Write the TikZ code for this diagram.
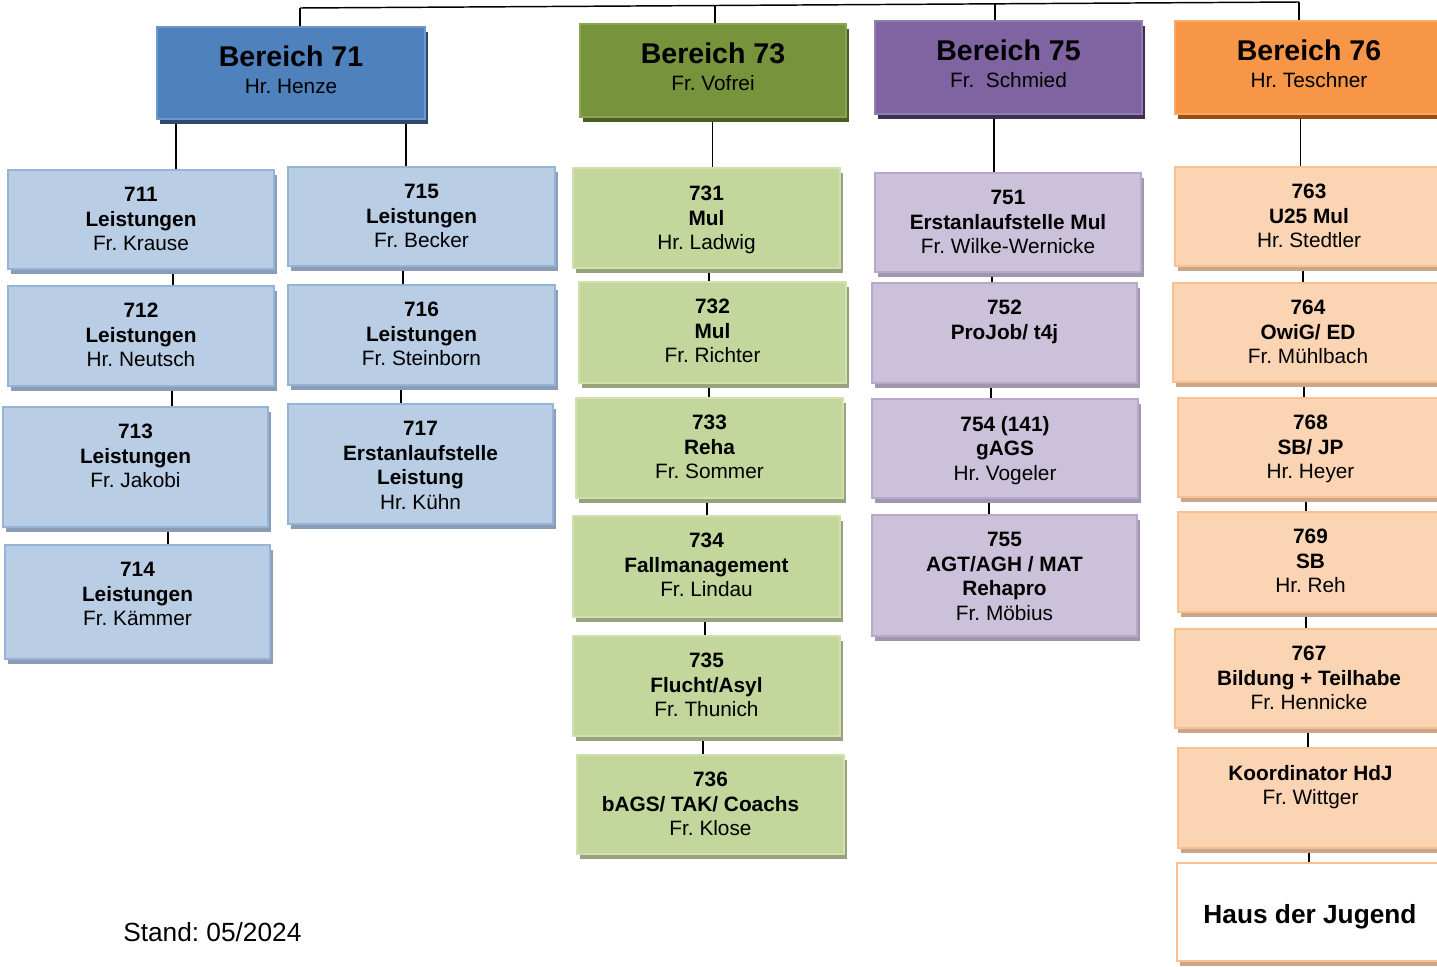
\documentclass[tikz,border=0pt]{standalone}
\usepackage{fontspec}
\setmainfont{Liberation Sans}
\frenchspacing
\usetikzlibrary{calc,shadows,backgrounds}
\definecolor{cHB}{HTML}{4F81BD}\definecolor{cHBd}{HTML}{6E96C8}\definecolor{cHBs}{HTML}{2C4A6E}
\definecolor{cHG}{HTML}{77933C}\definecolor{cHGd}{HTML}{8AA452}\definecolor{cHGs}{HTML}{4A5D24}
\definecolor{cHP}{HTML}{8064A2}\definecolor{cHPd}{HTML}{937CB2}\definecolor{cHPs}{HTML}{3F3151}
\definecolor{cHO}{HTML}{F79646}\definecolor{cHOd}{HTML}{F9A868}\definecolor{cHOs}{HTML}{9A4D10}
\definecolor{cLB}{HTML}{B9CDE5}\definecolor{cLBd}{HTML}{95B3D7}\definecolor{cLBs}{HTML}{8B9DB6}
\definecolor{cLG}{HTML}{C3D69B}\definecolor{cLGd}{HTML}{D0E0AE}\definecolor{cLGs}{HTML}{98A27D}
\definecolor{cLP}{HTML}{CCC1DA}\definecolor{cLPd}{HTML}{B8A9CC}\definecolor{cLPs}{HTML}{A097AC}
\definecolor{cLO}{HTML}{FBD4B4}\definecolor{cLOd}{HTML}{FAC090}\definecolor{cLOs}{HTML}{C8A68A}
\newcommand\obox[6]{\node[#2, anchor=north west, minimum width={(#5-#3)*0.75pt}, minimum height={(#6-#4)*0.75pt}] (#1) at (#3,#4) {};}
\newcommand\otext[3]{\node[txt] (t#1) at ($(#1.north)+(0,#2-15)$) {#3};}
\newcommand\ohead[3]{\node[ttl] (t#1) at ($(#1.north)+(0,39.5)$) {#2};\node[subt] (s#1) at ($(#1.north)+(0,66)$) {#3};}
\newcommand\olink[3]{\draw[conn] (#1,0 |- #2.center) -- (#1,0 |- #3.center);}
\begin{document}
\begin{tikzpicture}[x=0.75pt,y=-0.75pt,
  conn/.style={draw=black, line width=1.1pt},
  basebox/.style={rectangle, inner sep=0pt, outer sep=0pt, line width=1pt},
  sh/.style={drop shadow={shadow xshift=2.5pt, shadow yshift=-4pt, fill=#1, opacity=1}},
  hblue/.style={basebox, fill=cHB, draw=cHBd, sh=cHBs},
  hgreen/.style={basebox, fill=cHG, draw=cHGd, sh=cHGs},
  hpurple/.style={basebox, fill=cHP, draw=cHPd, sh=cHPs},
  horange/.style={basebox, fill=cHO, draw=cHOd, sh=cHOs},
  lblue/.style={basebox, fill=cLB, draw=cLBd, sh=cLBs},
  lgreen/.style={basebox, fill=cLG, draw=cLGd, sh=cLGs},
  lpurple/.style={basebox, fill=cLP, draw=cLPd, sh=cLPs},
  lorange/.style={basebox, fill=cLO, draw=cLOd, sh=cLOs},
  lwhite/.style={basebox, fill=white, draw=cLOd, line width=1.5pt, sh=cLOs},
  txt/.style={inner sep=0pt, align=center, anchor=north, font=\fontsize{15.6}{18.4}\selectfont},
  ttl/.style={inner sep=0pt, anchor=base, font=\fontsize{21.4}{24}\selectfont\bfseries},
  subt/.style={inner sep=0pt, anchor=base, font=\fontsize{15.6}{18.4}\selectfont},
]
\useasboundingbox (0,0) rectangle (1437,967);
% headers
\obox{b71}{hblue}{157}{27}{425}{119}
\obox{b73}{hgreen}{580}{24}{846}{117}
\obox{b75}{hpurple}{875}{21}{1142}{114}
\obox{b76}{horange}{1175}{21}{1443}{114}
\ohead{b71}{Bereich 71}{Hr. Henze}
\ohead{b73}{Bereich 73}{Fr. Vofrei}
\ohead{b75}{Bereich 75}{Fr.\ \ Schmied}
\ohead{b76}{Bereich 76}{Hr. Teschner}
% column 71 left
\obox{b711}{lblue}{8}{170}{274}{269}
\obox{b712}{lblue}{8}{286}{274}{386}
\obox{b713}{lblue}{3}{407}{268}{527}
\obox{b714}{lblue}{5}{545}{270}{659}
\otext{b711}{32}{\textbf{711}\\\textbf{Leistungen}\\Fr. Krause}
\otext{b712}{32}{\textbf{712}\\\textbf{Leistungen}\\Hr. Neutsch}
\otext{b713}{32}{\textbf{713}\\\textbf{Leistungen}\\Fr. Jakobi}
\otext{b714}{32}{\textbf{714}\\\textbf{Leistungen}\\Fr. Kämmer}
% column 71 right
\obox{b715}{lblue}{288}{167}{555}{266}
\obox{b716}{lblue}{288}{285}{555}{385}
\obox{b717}{lblue}{288}{404}{553}{524}
\otext{b715}{32}{\textbf{715}\\\textbf{Leistungen}\\Fr. Becker}
\otext{b716}{32}{\textbf{716}\\\textbf{Leistungen}\\Fr. Steinborn}
\otext{b717}{32}{\textbf{717}\\\textbf{Erstanlaufstelle}\\\textbf{Leistung}\\Hr. Kühn}
% column 73
\obox{b731}{lgreen}{573}{168}{840}{268}
\obox{b732}{lgreen}{579}{282}{846}{383}
\obox{b733}{lgreen}{576}{398}{843}{498}
\obox{b734}{lgreen}{573}{516}{840}{617}
\obox{b735}{lgreen}{573}{636}{840}{736}
\obox{b736}{lgreen}{577}{755}{844}{854}
\otext{b731}{33}{\textbf{731}\\\textbf{Mul}\\Hr. Ladwig}
\otext{b732}{32}{\textbf{732}\\\textbf{Mul}\\Fr. Richter}
\otext{b733}{32}{\textbf{733}\\\textbf{Reha}\\Fr. Sommer}
\otext{b734}{32}{\textbf{734}\\\textbf{Fallmanagement}\\Fr. Lindau}
\otext{b735}{32}{\textbf{735}\\\textbf{Flucht/Asyl}\\Fr. Thunich}
\otext{b736}{32}{\textbf{736}\\\textbf{bAGS/ TAK/ Coachs}\rule{15pt}{0pt}\\Fr. Klose}
% column 75
\obox{b751}{lpurple}{875}{173}{1141}{272}
\obox{b752}{lpurple}{872}{283}{1137}{383}
\obox{b754}{lpurple}{872}{399}{1138}{498}
\obox{b755}{lpurple}{872}{515}{1137}{636}
\otext{b751}{32}{\textbf{751}\\\textbf{Erstanlaufstelle Mul}\\Fr. Wilke-Wernicke}
\otext{b752}{32}{\textbf{752}\\\textbf{ProJob/ t4j}}
\otext{b754}{32}{\textbf{754 (141)}\\\textbf{gAGS}\\Hr. Vogeler}
\otext{b755}{32}{\textbf{755}\\\textbf{AGT/AGH / MAT}\\\textbf{Rehapro}\\Fr. Möbius}
% column 76
\obox{b763}{lorange}{1175}{167}{1443}{266}
\obox{b764}{lorange}{1173}{283}{1443}{382}
\obox{b768}{lorange}{1178}{398}{1443}{497}
\obox{b769}{lorange}{1178}{512}{1443}{612}
\obox{b767}{lorange}{1175}{629}{1443}{728}
\obox{bkoord}{lorange}{1178}{748}{1443}{848}
\obox{bhdj}{lwhite}{1177}{863}{1443}{961}
\otext{b763}{32}{\textbf{763}\\\textbf{U25 Mul}\\Hr. Stedtler}
\otext{b764}{32}{\textbf{764}\\\textbf{OwiG/ ED}\\Fr. Mühlbach}
\otext{b768}{32}{\textbf{768}\\\textbf{SB/ JP}\\Hr. Heyer}
\otext{b769}{32}{\textbf{769}\\\textbf{SB}\\Hr. Reh}
\otext{b767}{32}{\textbf{767}\\\textbf{Bildung + Teilhabe}\\Fr. Hennicke}
\otext{bkoord}{32}{\textbf{Koordinator HdJ}\\Fr. Wittger}
\node[inner sep=0pt, anchor=base, font=\fontsize{19.7}{24}\selectfont\bfseries] (thdj) at ($(bhdj.north)+(0,60)$) {Haus der Jugend};
% date
\node[inner sep=0pt, anchor=base west, font=\fontsize{19.7}{24}\selectfont] (stand) at (123,941) {Stand: 05/2024};
% connectors
\coordinate (tl71) at (300,8);
\coordinate (tl73) at (715,5.5);
\coordinate (tl75) at (995,3.8);
\coordinate (tl76) at (1299,2);
\begin{scope}[on background layer]
\draw[conn] (tl71) -- (tl76);
\draw[conn] (tl71) -- (tl71 |- b71.center);
\draw[conn] (tl73) -- (tl73 |- b73.center);
\draw[conn] (tl75) -- (tl75 |- b75.center);
\draw[conn] (tl76) -- (tl76 |- b76.center);
\olink{176}{b71}{b711}
\olink{406}{b71}{b715}
\olink{173}{b711}{b712}
\olink{172}{b712}{b713}
\olink{168}{b713}{b714}
\olink{403}{b715}{b716}
\olink{401}{b716}{b717}
\olink{712.5}{b73}{b731}
\olink{709}{b731}{b732}
\olink{709}{b732}{b733}
\olink{707}{b733}{b734}
\olink{705}{b734}{b735}
\olink{703}{b735}{b736}
\olink{994}{b75}{b751}
\olink{992}{b751}{b752}
\olink{991}{b752}{b754}
\olink{989}{b754}{b755}
\olink{1300.5}{b76}{b763}
\olink{1303}{b763}{b764}
\olink{1304}{b764}{b768}
\olink{1306}{b768}{b769}
\olink{1306}{b769}{b767}
\olink{1308}{b767}{bkoord}
\olink{1309}{bkoord}{bhdj}
\end{scope}
\end{tikzpicture}
\end{document}
